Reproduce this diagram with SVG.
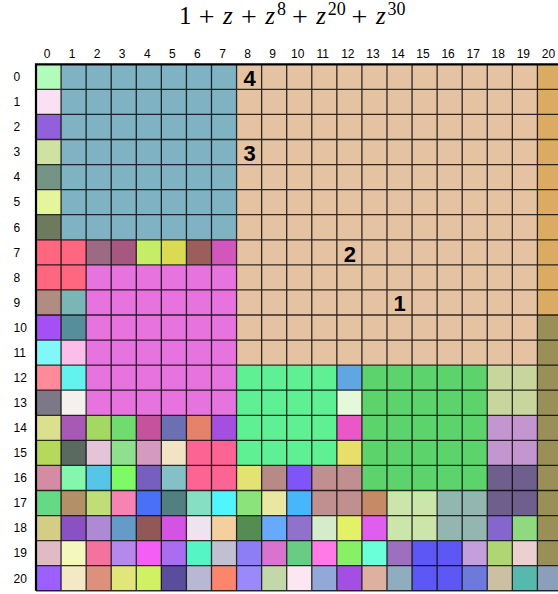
<svg xmlns="http://www.w3.org/2000/svg" width="558" height="594" viewBox="0 0 558 594">
<style>
.lbl{font-family:"Liberation Sans",Arial,sans-serif;font-size:12px;fill:#000}
.cl{text-anchor:middle}
.big{font-family:"Liberation Sans",Arial,sans-serif;font-size:22px;font-weight:bold;text-anchor:middle;fill:#000}
.ttl{font-family:"Liberation Serif","Times New Roman",serif;font-size:25px;fill:#000}
.z{font-style:italic}
.op{font-size:28px}
.sup{font-size:18px}
.grid{fill:none;stroke:#000;stroke-opacity:0.8;stroke-width:1.3}
.border{fill:none;stroke:#000;stroke-width:2.2}
</style>
<rect width="558" height="594" fill="#fff"/>
<text class="ttl" y="23.5"><tspan x="179">1</tspan><tspan class="op" x="198.8" y="25.5">+</tspan><tspan class="z" x="223.1" y="23.5">z</tspan><tspan class="op" x="241" y="25.5">+</tspan><tspan class="z" x="265.3" y="23.5">z</tspan><tspan class="sup" x="276.9" y="15">8</tspan><tspan class="op" x="292" y="25.5">+</tspan><tspan class="z" x="316.3" y="23.5">z</tspan><tspan class="sup" x="327.8" y="15">20</tspan><tspan class="op" x="351.6" y="25.5">+</tspan><tspan class="z" x="375.9" y="23.5">z</tspan><tspan class="sup" x="387.5" y="15">30</tspan></text>
<g id="cells" transform="translate(36 64.3) scale(25.07)">
<rect x="1" y="0" width="7" height="7" fill="#7fb2c2"/>
<rect x="8" y="0" width="12" height="12" fill="#e5c2a2"/>
<rect x="20" y="0" width="1" height="10" fill="#dbab63"/>
<rect x="20" y="10" width="1" height="10" fill="#9a9057"/>
<rect x="20" y="20" width="1" height="1" fill="#8b9fbb"/>
<rect x="2" y="8" width="6" height="6" fill="#e673de"/>
<rect x="8" y="12" width="4" height="4" fill="#5ef093"/>
<rect x="13" y="12" width="5" height="5" fill="#5dd46b"/>
<rect x="18" y="12" width="2" height="2" fill="#c8d59c"/>
<rect x="18" y="14" width="2" height="2" fill="#c496cf"/>
<rect x="18" y="16" width="2" height="2" fill="#6e5f8d"/>
<rect x="0" y="7" width="2" height="2" fill="#ff6680"/>
<rect x="11" y="16" width="2" height="2" fill="#c09090"/>
<rect x="14" y="17" width="2" height="2" fill="#cbe5aa"/>
<rect x="16" y="17" width="2" height="2" fill="#93b6b0"/>
<rect x="15" y="19" width="2" height="2" fill="#5c57f5"/>
<rect x="6" y="15" width="2" height="2" fill="#fc6494"/>
<rect x="0" y="0" width="1" height="1" fill="#b2fcbb"/>
<rect x="0" y="1" width="1" height="1" fill="#f9e0f2"/>
<rect x="0" y="2" width="1" height="1" fill="#9160dc"/>
<rect x="0" y="3" width="1" height="1" fill="#d0e2a2"/>
<rect x="0" y="4" width="1" height="1" fill="#749585"/>
<rect x="0" y="5" width="1" height="1" fill="#e5f59c"/>
<rect x="0" y="6" width="1" height="1" fill="#6e7a5e"/>
<rect x="2" y="7" width="1" height="1" fill="#9c6a84"/>
<rect x="3" y="7" width="1" height="1" fill="#a65880"/>
<rect x="4" y="7" width="1" height="1" fill="#c5ed68"/>
<rect x="5" y="7" width="1" height="1" fill="#d9dc52"/>
<rect x="6" y="7" width="1" height="1" fill="#9b5e5a"/>
<rect x="7" y="7" width="1" height="1" fill="#d157bc"/>
<rect x="0" y="9" width="1" height="1" fill="#b08d80"/>
<rect x="1" y="9" width="1" height="1" fill="#7ab6b5"/>
<rect x="0" y="10" width="1" height="1" fill="#a64ff5"/>
<rect x="1" y="10" width="1" height="1" fill="#568e9c"/>
<rect x="0" y="11" width="1" height="1" fill="#82f7f8"/>
<rect x="1" y="11" width="1" height="1" fill="#fbbeeb"/>
<rect x="0" y="12" width="1" height="1" fill="#ff8a9a"/>
<rect x="1" y="12" width="1" height="1" fill="#63f2ee"/>
<rect x="0" y="13" width="1" height="1" fill="#7d7886"/>
<rect x="1" y="13" width="1" height="1" fill="#f4f0ec"/>
<rect x="12" y="12" width="1" height="1" fill="#60a6e0"/>
<rect x="12" y="13" width="1" height="1" fill="#e5f8d9"/>
<rect x="12" y="14" width="1" height="1" fill="#ea57c6"/>
<rect x="12" y="15" width="1" height="1" fill="#e8de6a"/>
<rect x="0" y="14" width="1" height="1" fill="#dbe08f"/>
<rect x="1" y="14" width="1" height="1" fill="#a858b5"/>
<rect x="2" y="14" width="1" height="1" fill="#a5d862"/>
<rect x="3" y="14" width="1" height="1" fill="#70dc70"/>
<rect x="4" y="14" width="1" height="1" fill="#c4529c"/>
<rect x="5" y="14" width="1" height="1" fill="#6b70b5"/>
<rect x="6" y="14" width="1" height="1" fill="#e5826a"/>
<rect x="7" y="14" width="1" height="1" fill="#a44fe0"/>
<rect x="0" y="15" width="1" height="1" fill="#b5d95a"/>
<rect x="1" y="15" width="1" height="1" fill="#5b6a60"/>
<rect x="2" y="15" width="1" height="1" fill="#e3c4d8"/>
<rect x="3" y="15" width="1" height="1" fill="#8ee08e"/>
<rect x="4" y="15" width="1" height="1" fill="#d59ac0"/>
<rect x="5" y="15" width="1" height="1" fill="#f0e4c4"/>
<rect x="0" y="16" width="1" height="1" fill="#d48ca4"/>
<rect x="1" y="16" width="1" height="1" fill="#83f7ab"/>
<rect x="2" y="16" width="1" height="1" fill="#56c5e7"/>
<rect x="3" y="16" width="1" height="1" fill="#7ffa67"/>
<rect x="4" y="16" width="1" height="1" fill="#765fbf"/>
<rect x="5" y="16" width="1" height="1" fill="#84c1c7"/>
<rect x="8" y="16" width="1" height="1" fill="#e2e372"/>
<rect x="9" y="16" width="1" height="1" fill="#b78a85"/>
<rect x="10" y="16" width="1" height="1" fill="#7f54f9"/>
<rect x="0" y="17" width="1" height="1" fill="#65d983"/>
<rect x="1" y="17" width="1" height="1" fill="#b39067"/>
<rect x="2" y="17" width="1" height="1" fill="#c1de76"/>
<rect x="3" y="17" width="1" height="1" fill="#f683b4"/>
<rect x="4" y="17" width="1" height="1" fill="#4a70f5"/>
<rect x="5" y="17" width="1" height="1" fill="#528080"/>
<rect x="6" y="17" width="1" height="1" fill="#87dfc3"/>
<rect x="7" y="17" width="1" height="1" fill="#50f5fd"/>
<rect x="8" y="17" width="1" height="1" fill="#8ae47b"/>
<rect x="9" y="17" width="1" height="1" fill="#e8e8a0"/>
<rect x="10" y="17" width="1" height="1" fill="#48b6fa"/>
<rect x="13" y="17" width="1" height="1" fill="#c68a67"/>
<rect x="0" y="18" width="1" height="1" fill="#d3cd86"/>
<rect x="1" y="18" width="1" height="1" fill="#8a51c3"/>
<rect x="2" y="18" width="1" height="1" fill="#ae8ad4"/>
<rect x="3" y="18" width="1" height="1" fill="#659bc9"/>
<rect x="4" y="18" width="1" height="1" fill="#925858"/>
<rect x="5" y="18" width="1" height="1" fill="#d452e4"/>
<rect x="6" y="18" width="1" height="1" fill="#eee3ee"/>
<rect x="7" y="18" width="1" height="1" fill="#f4cfa0"/>
<rect x="8" y="18" width="1" height="1" fill="#548c54"/>
<rect x="9" y="18" width="1" height="1" fill="#67aafc"/>
<rect x="10" y="18" width="1" height="1" fill="#9071cb"/>
<rect x="11" y="18" width="1" height="1" fill="#d5eccc"/>
<rect x="12" y="18" width="1" height="1" fill="#e3f167"/>
<rect x="13" y="18" width="1" height="1" fill="#df5def"/>
<rect x="18" y="18" width="1" height="1" fill="#8466cc"/>
<rect x="19" y="18" width="1" height="1" fill="#8fda80"/>
<rect x="0" y="19" width="1" height="1" fill="#e0bac4"/>
<rect x="1" y="19" width="1" height="1" fill="#f4f8be"/>
<rect x="2" y="19" width="1" height="1" fill="#f4739e"/>
<rect x="3" y="19" width="1" height="1" fill="#b589ec"/>
<rect x="4" y="19" width="1" height="1" fill="#f45ef5"/>
<rect x="5" y="19" width="1" height="1" fill="#a96ef0"/>
<rect x="6" y="19" width="1" height="1" fill="#56f5c6"/>
<rect x="7" y="19" width="1" height="1" fill="#c1c0d3"/>
<rect x="8" y="19" width="1" height="1" fill="#8d7ef6"/>
<rect x="9" y="19" width="1" height="1" fill="#d874cf"/>
<rect x="10" y="19" width="1" height="1" fill="#68cc82"/>
<rect x="11" y="19" width="1" height="1" fill="#ff7ae6"/>
<rect x="12" y="19" width="1" height="1" fill="#87f066"/>
<rect x="13" y="19" width="1" height="1" fill="#6affd8"/>
<rect x="14" y="19" width="1" height="1" fill="#9f6fbf"/>
<rect x="17" y="19" width="1" height="1" fill="#c3a0dc"/>
<rect x="18" y="19" width="1" height="1" fill="#aed774"/>
<rect x="19" y="19" width="1" height="1" fill="#eccfcf"/>
<rect x="0" y="20" width="1" height="1" fill="#9b60ff"/>
<rect x="1" y="20" width="1" height="1" fill="#f3e9c5"/>
<rect x="2" y="20" width="1" height="1" fill="#dc917c"/>
<rect x="3" y="20" width="1" height="1" fill="#e2e57a"/>
<rect x="4" y="20" width="1" height="1" fill="#d0f162"/>
<rect x="5" y="20" width="1" height="1" fill="#5a4d9b"/>
<rect x="6" y="20" width="1" height="1" fill="#b9b8d4"/>
<rect x="7" y="20" width="1" height="1" fill="#fb866b"/>
<rect x="8" y="20" width="1" height="1" fill="#9b89fb"/>
<rect x="9" y="20" width="1" height="1" fill="#c2d8a8"/>
<rect x="10" y="20" width="1" height="1" fill="#fbe6f2"/>
<rect x="11" y="20" width="1" height="1" fill="#92a8d8"/>
<rect x="12" y="20" width="1" height="1" fill="#a34fe4"/>
<rect x="13" y="20" width="1" height="1" fill="#deb09f"/>
<rect x="14" y="20" width="1" height="1" fill="#8fadbf"/>
<rect x="17" y="20" width="1" height="1" fill="#6e79dc"/>
<rect x="18" y="20" width="1" height="1" fill="#cbc0a2"/>
<rect x="19" y="20" width="1" height="1" fill="#57b9ad"/>
<path class="grid" vector-effect="non-scaling-stroke" d="M1 0V21M2 0V21M3 0V21M4 0V21M5 0V21M6 0V21M7 0V21M8 0V21M9 0V21M10 0V21M11 0V21M12 0V21M13 0V21M14 0V21M15 0V21M16 0V21M17 0V21M18 0V21M19 0V21M20 0V21M21 0V21M0 1H21M0 2H21M0 3H21M0 4H21M0 5H21M0 6H21M0 7H21M0 8H21M0 9H21M0 10H21M0 11H21M0 12H21M0 13H21M0 14H21M0 15H21M0 16H21M0 17H21M0 18H21M0 19H21M0 20H21M0 21H21"/>
<path class="border" vector-effect="non-scaling-stroke" d="M0 21V0H21"/>
</g>
<g id="col-labels" class="lbl cl">
<text x="47" y="57.5">0</text><text x="72.07" y="57.5">1</text><text x="97.14" y="57.5">2</text><text x="122.21" y="57.5">3</text><text x="147.28" y="57.5">4</text><text x="172.35" y="57.5">5</text><text x="197.42" y="57.5">6</text><text x="222.49" y="57.5">7</text><text x="247.56" y="57.5">8</text><text x="272.63" y="57.5">9</text><text x="297.7" y="57.5">10</text><text x="322.77" y="57.5">11</text><text x="347.84" y="57.5">12</text><text x="372.91" y="57.5">13</text><text x="397.98" y="57.5">14</text><text x="423.05" y="57.5">15</text><text x="448.12" y="57.5">16</text><text x="473.19" y="57.5">17</text><text x="498.26" y="57.5">18</text><text x="523.33" y="57.5">19</text><text x="548.4" y="57.5">20</text>
</g>
<g id="row-labels" class="lbl">
<text x="13.5" y="81.1">0</text><text x="13.5" y="106.17">1</text><text x="13.5" y="131.24">2</text><text x="13.5" y="156.31">3</text><text x="13.5" y="181.38">4</text><text x="13.5" y="206.45">5</text><text x="13.5" y="231.52">6</text><text x="13.5" y="256.59">7</text><text x="13.5" y="281.66">8</text><text x="13.5" y="306.73">9</text><text x="13.5" y="331.8">10</text><text x="13.5" y="356.87">11</text><text x="13.5" y="381.94">12</text><text x="13.5" y="407.01">13</text><text x="13.5" y="432.08">14</text><text x="13.5" y="457.15">15</text><text x="13.5" y="482.22">16</text><text x="13.5" y="507.29">17</text><text x="13.5" y="532.36">18</text><text x="13.5" y="557.43">19</text><text x="13.5" y="582.5">20</text>
</g>
<g id="markers" class="big">
<text x="249.6" y="85.5">4</text>
<text x="249.6" y="160.7">3</text>
<text x="349.9" y="261.5">2</text>
<text x="399.5" y="311">1</text>
</g>
</svg>
